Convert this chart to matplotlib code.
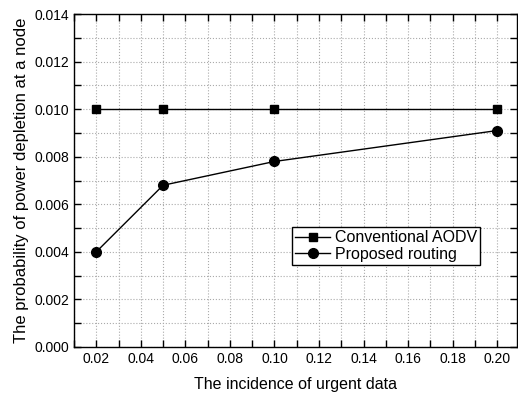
from matplotlib import pyplot as plt
from matplotlib.ticker import MultipleLocator, FormatStrFormatter

incidence = [0.02, 0.05, 0.10, 0.20]
conventional_aodv = [0.0100, 0.0100, 0.0100, 0.0100]
proposed_routing = [0.0040, 0.0068, 0.0078, 0.0091]

plt.rcParams['font.family'] = ['Liberation Sans', 'DejaVu Sans']

fig = plt.figure(figsize=(5.18, 3.97), dpi=100)
ax = fig.add_axes([74 / 518, 1 - 347 / 397, (517 - 74) / 518, (347 - 14) / 397])

ax.plot(incidence, conventional_aodv, color='black', lw=1, marker='s', markersize=6,
        label='Conventional AODV')
ax.plot(incidence, proposed_routing, color='black', lw=1, marker='o', markersize=7,
        label='Proposed routing')

ax.set_xlim(0.01, 0.2089)
ax.set_ylim(0, 0.014)
ax.xaxis.set_major_locator(MultipleLocator(0.02))
ax.xaxis.set_minor_locator(MultipleLocator(0.01))
ax.yaxis.set_major_locator(MultipleLocator(0.002))
ax.yaxis.set_minor_locator(MultipleLocator(0.001))
ax.xaxis.set_major_formatter(FormatStrFormatter('%.2f'))
ax.yaxis.set_major_formatter(FormatStrFormatter('%.3f'))

ax.tick_params(which='both', direction='in', top=True, right=True, length=5, width=1,
               labelsize=10)
ax.grid(which='both', color='#aaaaaa', linestyle=':', lw=0.8)
ax.set_axisbelow(True)
for s in ax.spines.values():
    s.set_linewidth(1)

ax.set_xlabel('The incidence of urgent data', fontsize=11.5, labelpad=8)
ax.set_ylabel('The probability of power depletion at a node', fontsize=12, labelpad=4)

ax.legend(loc='upper left', bbox_to_anchor=((292 - 74) / 443, 1 - (227 - 14) / 333),
          fontsize=11.5, frameon=True, fancybox=False, edgecolor='black',
          framealpha=1, borderpad=0.2, handlelength=2.2, handletextpad=0.3,
          labelspacing=0.1, borderaxespad=0)

plt.savefig('out.png', dpi=100)
